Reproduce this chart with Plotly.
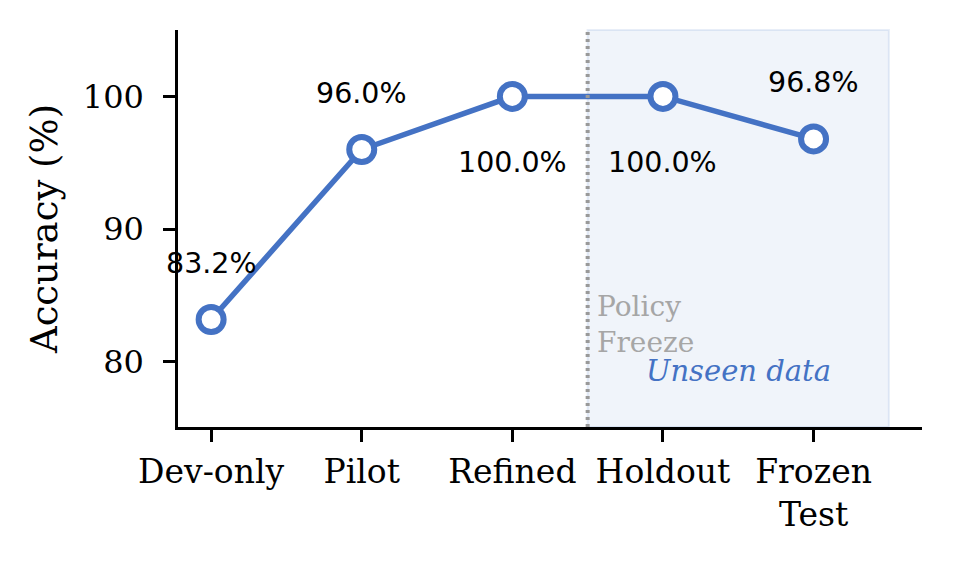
import plotly.graph_objects as go

# chart data
stages = ['Dev-only', 'Pilot', 'Refined', 'Holdout', 'Frozen<br>Test']
accuracy = [83.2, 96.0, 100.0, 100.0, 96.8]
label_above = [True, True, False, False, True]
y_ticks = [80, 90, 100]

blue = '#4472C4'
serif = 'DejaVu Serif'
sans = 'DejaVu Sans'

fig = go.Figure()

fig.add_trace(go.Scatter(
    x=stages,
    y=accuracy,
    mode='lines+markers',
    line=dict(color=blue, width=5.5),
    marker=dict(symbol='circle', size=25, color='white',
                line=dict(color=blue, width=6)),
    showlegend=False,
    hoverinfo='skip',
))

# unseen data region and freeze line
fig.add_shape(type='rect', xref='x', yref='paper', x0=2.5, x1=4.5, y0=0, y1=1,
              fillcolor='rgba(68,114,196,0.08)',
              line=dict(color='rgba(68,114,196,0.12)', width=2), layer='below')
fig.add_shape(type='line', xref='x', yref='paper', x0=2.5, x1=2.5, y0=0, y1=1,
              line=dict(color='#999999', width=4, dash='3px,4px'))

# value labels
for stage, acc, above in zip(stages, accuracy, label_above):
    fig.add_annotation(x=stage, y=acc, text='%.1f%%' % acc, showarrow=False,
                       yshift=56 if above else -66, yanchor='middle',
                       font=dict(family=sans, size=28.5, color='black'))

fig.add_annotation(x=2.5, y=82.85, xref='x', yref='y', text='Policy<br>Freeze',
                   showarrow=False, xanchor='left', yanchor='middle', xshift=7,
                   align='left', font=dict(family=serif, size=28, color='#a6a6a6'))
fig.add_annotation(x=3.5, y=79.3, xref='x', yref='y', text='<i>Unseen data</i>',
                   showarrow=False, xanchor='center', yanchor='middle',
                   font=dict(family=serif, size=29, color=blue))

fig.update_layout(
    width=953, height=566,
    margin=dict(l=170, r=39, t=22, b=147),
    plot_bgcolor='white', paper_bgcolor='white',
    font=dict(family=serif, color='black'),
)
fig.update_xaxes(
    type='category', range=[-0.22, 4.72],
    showline=True, linecolor='black', linewidth=2.5,
    ticks='outside', ticklen=12, tickwidth=2.5, tickcolor='black',
    showgrid=False, zeroline=False, ticklabelstandoff=2,
    tickfont=dict(family=serif, size=33),
)
fig.update_yaxes(
    range=[75.1, 105], tickvals=y_ticks,
    showline=True, linecolor='black', linewidth=2.5,
    ticks='outside', ticklen=12, tickwidth=2.5, tickcolor='black',
    showgrid=False, zeroline=False, ticklabelstandoff=13,
    tickfont=dict(family=serif, size=32),
    title=dict(text='Accuracy (%)', font=dict(family=serif, size=37), standoff=14),
)

fig.write_html('out.html')
